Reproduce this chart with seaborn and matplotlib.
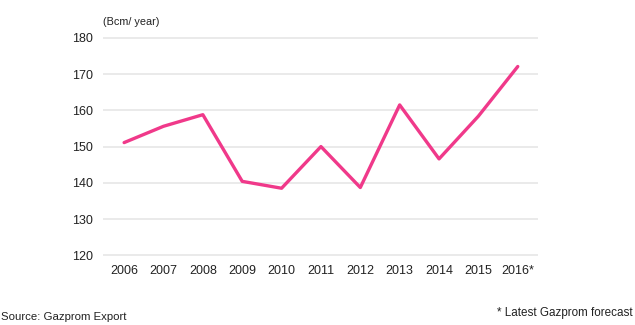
import matplotlib
matplotlib.use("Agg")
import matplotlib.pyplot as plt
import seaborn as sns
import pandas as pd

years = ["2006", "2007", "2008", "2009", "2010", "2011", "2012", "2013", "2014", "2015", "2016*"]
exports = [151.1, 155.6, 158.8, 140.4, 138.5, 150.0, 138.7, 161.5, 146.6, 158.4, 172.1]
yticks = [120, 130, 140, 150, 160, 170, 180]

df = pd.DataFrame({"year": years, "value": exports})

sns.set_style("white")
plt.rcParams['font.family'] = ['Liberation Sans', 'DejaVu Sans']

fig = plt.figure(figsize=(6.35, 3.25), dpi=100)
ax = fig.add_axes([0.162, 0.209, 0.685, 0.680])

sns.lineplot(data=df, x="year", y="value", sort=False, color="#F0398A",
             linewidth=2.4, ax=ax)

ax.set_ylim(119.5, 180.5)
ax.set_xlim(-0.54, 10.51)
ax.set_yticks(yticks)
ax.set_yticklabels([str(t) for t in yticks])
ax.yaxis.grid(True, color="#E6E6E6", linewidth=1.2)
ax.xaxis.grid(False)
ax.set_axisbelow(True)
for s in ax.spines.values():
    s.set_visible(False)
ax.tick_params(axis="both", length=0, labelsize=9, colors="#222222")
ax.tick_params(axis="y", pad=7)
ax.tick_params(axis="x", pad=6)
ax.set_xlabel("")
ax.set_ylabel("")

fig.text(0.162, 0.932, "(Bcm/ year)", fontsize=7.8, color="#222222", va="center", ha="left")
fig.text(0.002, 0.025, "Source: Gazprom Export", fontsize=8.2, color="#222222", va="center", ha="left")
fig.text(0.997, 0.038, "* Latest Gazprom forecast", fontsize=8.4, color="#222222", va="center", ha="right")

fig.savefig("out.png", dpi=100)
